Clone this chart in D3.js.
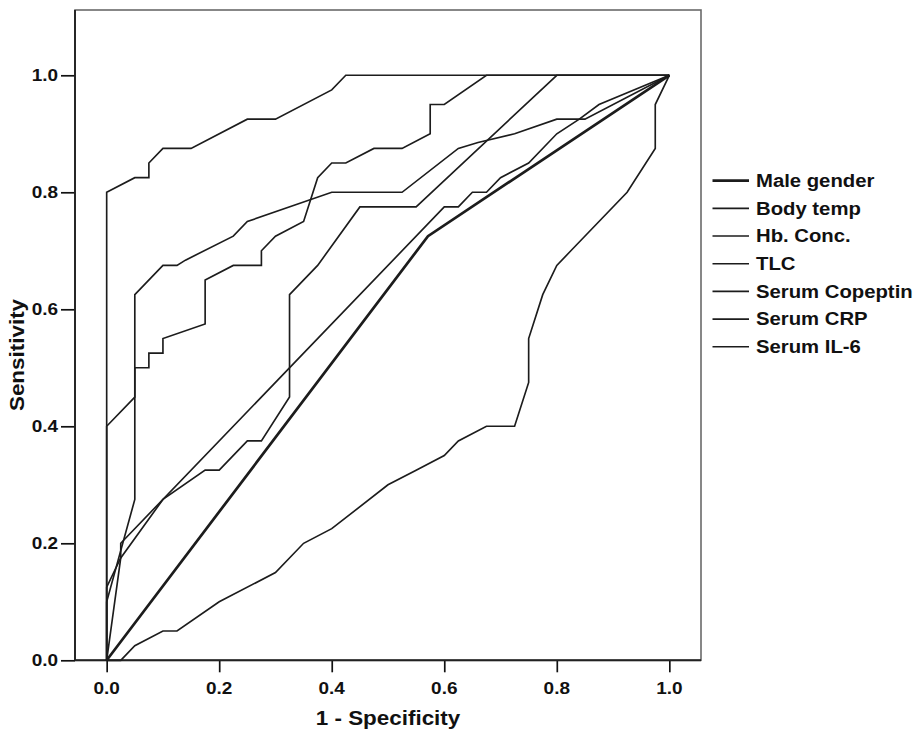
<!DOCTYPE html>
<html>
<head>
<meta charset="utf-8">
<script src="https://cdn.jsdelivr.net/npm/d3@7"></script>
<style>
  html, body { margin: 0; padding: 0; background: #fff; }
  svg { display: block; }
  text { font-family: "Liberation Sans", Arial, Helvetica, sans-serif; font-weight: bold; fill: #111; }
</style>
</head>
<body>
<svg id="chart" width="915" height="733"></svg>
<script>
// ---------------- data ----------------
const seriesNames = ["Male gender", "Body temp", "Hb. Conc.", "TLC", "Serum Copeptin", "Serum CRP", "Serum IL-6"];

const maleFpr = [0, 0.571, 1];
const maleTpr = [0, 0.725, 1];

const bodyTempFpr = [0, 0, 0.025, 0.1, 0.175, 0.2, 0.25, 0.275, 0.325, 0.325, 0.375, 0.45, 0.55, 0.8, 1];
const bodyTempTpr = [0, 0.125, 0.175, 0.275, 0.325, 0.325, 0.375, 0.375, 0.45, 0.625, 0.675, 0.775, 0.775, 1, 1];

const hbFpr = [0, 0.025, 0.05, 0.1, 0.125, 0.2, 0.3, 0.35, 0.4, 0.5, 0.55, 0.6, 0.625, 0.675, 0.725, 0.75, 0.75, 0.775, 0.8, 0.825, 0.925, 0.975, 0.975, 1];
const hbTpr = [0, 0, 0.025, 0.05, 0.05, 0.1, 0.15, 0.2, 0.225, 0.3, 0.325, 0.35, 0.375, 0.4, 0.4, 0.475, 0.55, 0.625, 0.675, 0.7, 0.8, 0.875, 0.95, 1];

const tlcFpr = [0, 0.025, 0.025, 0.6, 0.625, 0.65, 0.675, 0.7, 0.75, 0.8, 0.84, 0.875, 1];
const tlcTpr = [0, 0.175, 0.2, 0.775, 0.775, 0.8, 0.8, 0.825, 0.85, 0.9, 0.925, 0.95, 1];

const copeptinFpr = [0, 0, 0.05, 0.075, 0.075, 0.1, 0.15, 0.25, 0.3, 0.4, 0.425, 1];
const copeptinTpr = [0, 0.8, 0.825, 0.825, 0.85, 0.875, 0.875, 0.925, 0.925, 0.975, 1, 1];

const crpFpr = [0, 0, 0.05, 0.05, 0.075, 0.075, 0.1, 0.1, 0.175, 0.175, 0.225, 0.275, 0.275, 0.3, 0.35, 0.375, 0.4, 0.425, 0.475, 0.525, 0.575, 0.575, 0.6, 0.675, 1];
const crpTpr = [0, 0.1, 0.275, 0.5, 0.5, 0.525, 0.525, 0.55, 0.575, 0.65, 0.675, 0.675, 0.7, 0.725, 0.75, 0.825, 0.85, 0.85, 0.875, 0.875, 0.9, 0.95, 0.95, 1, 1];

const il6Fpr = [0, 0, 0.05, 0.05, 0.1, 0.125, 0.14, 0.225, 0.25, 0.4, 0.525, 0.625, 0.66, 0.725, 0.8, 0.85, 1];
const il6Tpr = [0, 0.4, 0.45, 0.625, 0.675, 0.675, 0.684, 0.725, 0.75, 0.8, 0.8, 0.875, 0.885, 0.9, 0.925, 0.925, 1];

const xTicks = [0, 0.2, 0.4, 0.6, 0.8, 1.0];
const yTicks = [0, 0.2, 0.4, 0.6, 0.8, 1.0];
const xTickLabels = ["0.0", "0.2", "0.4", "0.6", "0.8", "1.0"];
const yTickLabels = ["0.0", "0.2", "0.4", "0.6", "0.8", "1.0"];

const seriesFpr = [maleFpr, bodyTempFpr, hbFpr, tlcFpr, copeptinFpr, crpFpr, il6Fpr];
const seriesTpr = [maleTpr, bodyTempTpr, hbTpr, tlcTpr, copeptinTpr, crpTpr, il6Tpr];

// ---------------- layout ----------------
const frame = { left: 75, right: 701, top: 10, bottom: 660.3 };
const sx = 1.15; // horizontal stretch of the original lettering

const x = d3.scaleLinear().domain([-0.0563, 1.0563]).range([frame.left, frame.right]);
const y = d3.scaleLinear().domain([0, 1.1116]).range([frame.bottom, frame.top]);

const svg = d3.select("#chart");

// plot frame
svg.append("rect")
  .attr("x", frame.left).attr("y", frame.top)
  .attr("width", frame.right - frame.left).attr("height", frame.bottom - frame.top)
  .attr("fill", "none").attr("stroke", "#6a6a6a").attr("stroke-width", 1.6);

// axes (tick marks)
const xAxis = svg.append("g")
  .attr("transform", `translate(0,${frame.bottom})`)
  .call(d3.axisBottom(x).tickValues(xTicks).tickSize(12).tickFormat(""));
xAxis.select(".domain").remove();
xAxis.selectAll(".tick line").attr("stroke", "#111").attr("stroke-width", 1.7);

const yAxis = svg.append("g")
  .attr("transform", `translate(${frame.left},0)`)
  .call(d3.axisLeft(y).tickValues(yTicks).tickSize(14).tickFormat(""));
yAxis.select(".domain").remove();
yAxis.selectAll(".tick line").attr("stroke", "#111").attr("stroke-width", 1.7);

// axis lines (left + bottom darker)
svg.append("line").attr("x1", frame.left).attr("x2", frame.right)
  .attr("y1", frame.bottom).attr("y2", frame.bottom)
  .attr("stroke", "#222").attr("stroke-width", 1.9);
svg.append("line").attr("x1", frame.left).attr("x2", frame.left)
  .attr("y1", frame.top).attr("y2", frame.bottom)
  .attr("stroke", "#222").attr("stroke-width", 1.9);

// tick labels
svg.append("g").selectAll("text").data(xTicks).join("text")
  .attr("transform", d => `translate(${x(d)},693.5) scale(${sx},1)`)
  .attr("text-anchor", "middle")
  .style("font-size", "16.5px")
  .text((d, i) => xTickLabels[i]);

svg.append("g").selectAll("text").data(yTicks).join("text")
  .attr("transform", d => `translate(58,${y(d) + 6}) scale(${sx},1)`)
  .attr("text-anchor", "end")
  .style("font-size", "16.5px")
  .text((d, i) => yTickLabels[i]);

// axis titles
svg.append("text")
  .attr("transform", `translate(388,725) scale(${sx},1)`)
  .attr("text-anchor", "middle")
  .style("font-size", "19.5px")
  .text("1 - Specificity");

svg.append("text")
  .attr("transform", `translate(24,355) rotate(-90) scale(${sx},1)`)
  .attr("text-anchor", "middle")
  .style("font-size", "19.5px")
  .text("Sensitivity");

// curves
const line = d3.line().x(d => x(d[0])).y(d => y(d[1]));
const plot = svg.append("g");
seriesNames.forEach((name, i) => {
  const pts = seriesFpr[i].map((f, j) => [f, seriesTpr[i][j]]);
  plot.append("path")
    .datum(pts)
    .attr("d", line)
    .attr("fill", "none")
    .attr("stroke", "#1c1c1c")
    .attr("stroke-width", i === 0 ? 2.7 : 1.65)
    .attr("stroke-linejoin", "miter");
});

// legend
const legend = svg.append("g");
seriesNames.forEach((name, i) => {
  const cy = 180.7 + i * 27.67;
  legend.append("line")
    .attr("x1", 712.5).attr("x2", 749)
    .attr("y1", cy).attr("y2", cy)
    .attr("stroke", "#1c1c1c")
    .attr("stroke-width", i === 0 ? 2.7 : 1.65);
  legend.append("text")
    .attr("transform", `translate(756,${cy + 6.3}) scale(1.16,1)`)
    .style("font-size", "17.5px")
    .text(name);
});
</script>
</body>
</html>
